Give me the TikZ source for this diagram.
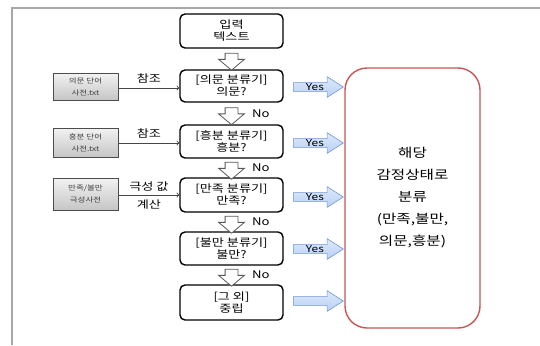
\documentclass[tikz,border=0pt]{standalone}
\usepackage{fontspec}
\setmainfont{Noto Sans CJK KR}[FakeStretch=1.25]
\usetikzlibrary{shapes.arrows,shadows,calc}
\definecolor{redline}{RGB}{200,85,85}
\definecolor{bluefill}{RGB}{185,210,245}
\definecolor{blueline}{RGB}{110,150,210}
\tikzset{
  decbox/.style={draw=black, line width=1.4pt, rounded corners=5pt, fill=white,
    minimum width=103pt, align=center, inner sep=1pt,
    font=\fontsize{10.5}{12}\selectfont},
  dictbox/.style={draw=gray!60!black, line width=0.8pt, top color=gray!10, bottom color=gray!45,
    drop shadow={shadow xshift=1.2pt, shadow yshift=-1.2pt, opacity=0.5},
    minimum width=65pt, align=center, inner sep=1pt,
    font=\fontsize{6.8}{12}\selectfont\color{black!75}},
  hollow/.style={single arrow, draw=gray!70!black, fill=white, line width=0.8pt,
    minimum height=17pt, minimum width=25pt, single arrow head extend=6.5pt,
    single arrow tip angle=100, inner sep=0pt, rotate=-90},
  yesarrow/.style={single arrow, draw=blueline, top color=bluefill!50, bottom color=bluefill,
    line width=0.6pt, minimum height=50pt, single arrow head extend=6pt,
    single arrow tip angle=65, inner xsep=3pt, inner ysep=0.5pt,
    font=\fontsize{9.5}{10}\selectfont, anchor=west},
  reflink/.style={->, >=to, draw=gray!55!black, line width=0.9pt},
  lbl/.style={font=\fontsize{10.5}{12}\selectfont},
  nolbl/.style={font=\fontsize{10.5}{12}\selectfont, anchor=west}
}
\begin{document}
\begin{tikzpicture}[x=1pt,y=-1pt]
\useasboundingbox (0,0) rectangle (540,345);
\draw[gray!70, line width=1.5pt] (12,345) -- (12,8) -- (540,8);

% decision boxes
\node[decbox, minimum height=34pt] (in) at (231.5,31) {입력\\텍스트};
\node[decbox, minimum height=32pt] (d1) at (231.5,86) {[의문 분류기]\\의문?};
\node[decbox, minimum height=33pt] (d2) at (231.5,141.5) {[흥분 분류기]\\흥분?};
\node[decbox, minimum height=34pt] (d3) at (231.5,195) {[만족 분류기]\\만족?};
\node[decbox, minimum height=33pt] (d4) at (231.5,248.5) {[불만 분류기]\\불만?};
\node[decbox, minimum height=35pt] (d5) at (231.5,302.5) {[그 외]\\중립};

% hollow down arrows
\node[hollow] (a0) at ($(in.south)!0.5!(d1.north)$) {\rule{0pt}{12pt}};
\node[hollow] (a1) at ($(d1.south)!0.5!(d2.north)$) {\rule{0pt}{12pt}};
\node[hollow] (a2) at ($(d2.south)!0.5!(d3.north)$) {\rule{0pt}{12pt}};
\node[hollow] (a3) at ($(d3.south)!0.5!(d4.north)$) {\rule{0pt}{12pt}};
\node[hollow] (a4) at ($(d4.south)!0.5!(d5.north)$) {\rule{0pt}{12pt}};
\node[nolbl] (n1) at ($(a1.center)+(17,0)$) {No};
\node[nolbl] (n2) at ($(a2.center)+(17,0)$) {No};
\node[nolbl] (n3) at ($(a3.center)+(17,0)$) {No};
\node[nolbl] (n4) at ($(a4.center)+(17,0)$) {No};

% result box
\node[draw=redline, line width=1.4pt, rounded corners=22pt, minimum width=135pt, minimum height=260pt,
  align=center, font=\fontsize{12.5}{22}\selectfont] (res) at (412.5,198)
  {해당\\감정상태로\\분류\\(만족,불만,\\의문,흥분)};

% yes arrows
\node[yesarrow] (y1) at (293,87) {Yes};
\node[yesarrow] (y2) at (293,143) {Yes};
\node[yesarrow] (y3) at (293,197) {Yes};
\node[yesarrow] (y4) at (293,249) {Yes};
\node[yesarrow] (y5) at (293,301) {\phantom{Yes}};

% dictionaries
\node[dictbox, minimum height=27pt] (g1) at (85.5,86.5) {의문 단어\\사전.txt};
\node[dictbox, minimum height=29pt] (g2) at (85.5,142.5) {흥분 단어\\사전.txt};
\node[dictbox, minimum height=32pt] (g3) at (85.5,194) {만족/불만\\극성사전};

\draw[reflink] (g1.east |- 0,88) -- node[lbl, above=1pt] {참조} (d1.west |- 0,88);
\draw[reflink] (g2.east |- 0,143) -- node[lbl, above=1pt] {참조} (d2.west |- 0,143);
\draw[reflink] (g3.east |- 0,195) -- node[lbl, above=0pt] {극성 값} node[lbl, below=1pt] {계산} (d3.west |- 0,195);
\end{tikzpicture}
\end{document}
